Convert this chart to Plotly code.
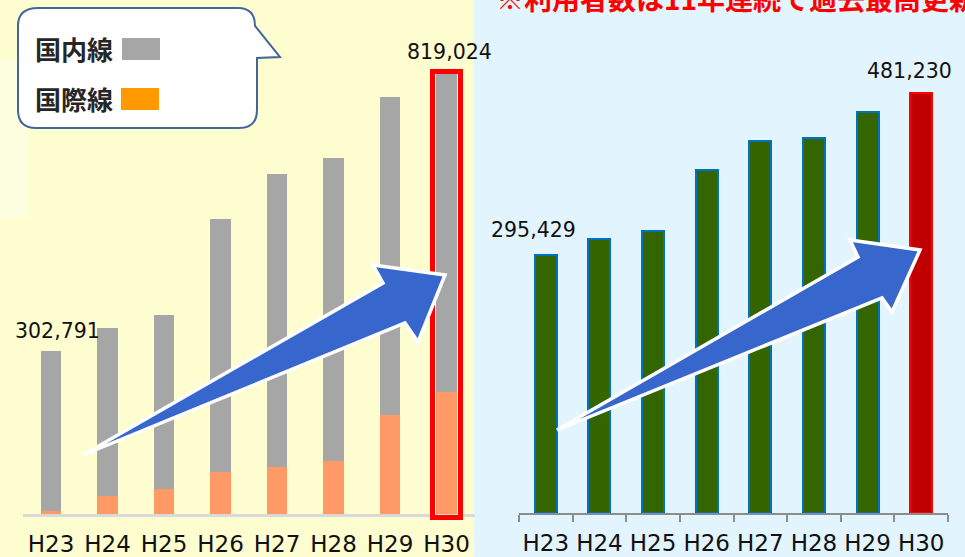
import plotly.graph_objects as go

# ---------------- data ----------------
categories = ["H23", "H24", "H25", "H26", "H27", "H28", "H29", "H30"]
international = [5000, 33000, 47000, 78000, 88000, 98000, 185000, 227000]
total_left = [302791, 346000, 370500, 549000, 634000, 662000, 777000, 819024]
domestic = [t - i for t, i in zip(total_left, international)]
users_right = [295429, 313500, 323400, 392900, 426000, 429000, 459000, 481230]
left_labels = {"H23": "302,791", "H30": "819,024"}
right_labels = {"H23": "295,429", "H30": "481,230"}
legend_names = ["国内線", "国際線"]
title_text = "※利用者数は11年連続で過去最高更新"

W, H = 965, 557


def px(x):
    return x / W


def py(y):
    return 1 - y / H


LEFT_SCALE = 1862.0   # value per pixel
RIGHT_SCALE = 1145.5
n = len(categories)

fig = go.Figure()

fig.add_trace(go.Bar(x=categories, y=international, name=legend_names[1],
                     marker=dict(color="#FF9966", line=dict(width=0)),
                     width=0.37, xaxis="x", yaxis="y"))
fig.add_trace(go.Bar(x=categories, y=domestic, name=legend_names[0],
                     marker=dict(color="#A6A6A6", line=dict(width=0)),
                     width=0.37, xaxis="x", yaxis="y"))

right_fill = ["#336600"] * (n - 1) + ["#C00000"]
right_line = ["#0070C0"] * (n - 1) + ["#FF0000"]
fig.add_trace(go.Bar(x=categories, y=users_right,
                     marker=dict(color=right_fill, line=dict(color=right_line, width=2)),
                     width=0.41, xaxis="x2", yaxis="y2"))

tickfont = dict(family="DejaVu Sans", size=23, color="#111111")

fig.update_layout(
    width=W, height=H,
    margin=dict(l=0, r=0, t=0, b=0, autoexpand=False),
    paper_bgcolor="#E2F4FD",
    plot_bgcolor="rgba(0,0,0,0)",
    barmode="stack",
    showlegend=False,
    xaxis=dict(domain=[22.75 / W, 474.75 / W], type="category",
               categoryorder="array", categoryarray=categories,
               range=[-0.5, n - 0.5], autorange=False,
               showline=True, linecolor="#D9D9D9", linewidth=3,
               ticks="", showgrid=False, zeroline=False, tickangle=0,
               automargin=False, ticklabelstandoff=7,
               tickfont=tickfont, anchor="y", fixedrange=True),
    yaxis=dict(domain=[(H - 514) / H, 1], range=[0, 514 * LEFT_SCALE],
               autorange=False,
               visible=False, anchor="x", fixedrange=True, automargin=False),
    xaxis2=dict(domain=[519 / W, 948 / W], type="category",
                categoryorder="array", categoryarray=categories,
                range=[-0.5, n - 0.5], autorange=False,
                showline=True, linecolor="#8C8C8C", linewidth=2,
                ticks="outside", ticklen=7, tickwidth=2, tickcolor="#8C8C8C",
                tickson="boundaries", showgrid=False, zeroline=False, tickangle=0,
                automargin=False, ticklabelstandoff=8,
                tickfont=tickfont, anchor="y2", fixedrange=True),
    yaxis2=dict(domain=[(H - 513) / H, 1], range=[0, 513 * RIGHT_SCALE],
                autorange=False,
                visible=False, anchor="x2", fixedrange=True, automargin=False),
)

shapes = []
# left panel background
shapes.append(dict(type="rect", xref="paper", yref="paper", layer="below",
                   x0=0, x1=px(474), y0=0, y1=1,
                   fillcolor="#FEFDD0", line=dict(width=0)))
# faded white block at left edge
shapes.append(dict(type="rect", xref="paper", yref="paper", layer="below",
                   x0=0, x1=px(28), y0=py(218), y1=py(60),
                   fillcolor="rgba(255,255,255,0.35)", line=dict(width=0)))

# red highlight box around left H30
shapes.append(dict(type="rect", xref="paper", yref="paper", layer="above",
                   x0=px(432.5), x1=px(460.5), y0=py(517.5), y1=py(71.5),
                   fillcolor="rgba(0,0,0,0)", line=dict(color="#FF0000", width=5)))


def poly(points):
    s = "M " + " L ".join(f"{px(x):.5f},{py(y):.5f}" for x, y in points) + " Z"
    return s


left_arrow = [(83, 455), (383, 283), (373, 265), (445, 275), (418, 342), (405, 323)]
right_arrow = [(557, 430), (858, 257), (850, 240), (920, 250), (892, 312), (882, 298)]
for pts in (left_arrow, right_arrow):
    shapes.append(dict(type="path", xref="paper", yref="paper", layer="above",
                       path=poly(pts), fillcolor="#3766CC",
                       line=dict(color="white", width=3.5)))

# callout legend box
def P(x, y):
    return f"{px(x):.5f},{py(y):.5f}"


callout = (f"M {P(38, 8)} L {P(238, 8)} Q {P(255, 8)} {P(255, 26)} "
           f"L {P(280, 57)} L {P(257, 58)} L {P(257, 110)} "
           f"Q {P(257, 128)} {P(239, 128)} L {P(36, 128)} "
           f"Q {P(18, 128)} {P(18, 110)} L {P(18, 26)} Q {P(18, 8)} {P(38, 8)} Z")
shapes.append(dict(type="path", xref="paper", yref="paper", layer="above",
                   path=callout, fillcolor="white",
                   line=dict(color="#41679A", width=2)))
shapes.append(dict(type="rect", xref="paper", yref="paper", layer="above",
                   x0=px(122), x1=px(160), y0=py(60), y1=py(38),
                   fillcolor="#A6A6A6", line=dict(width=0)))
shapes.append(dict(type="rect", xref="paper", yref="paper", layer="above",
                   x0=px(121), x1=px(159), y0=py(110), y1=py(88),
                   fillcolor="#FF9900", line=dict(width=0)))
fig.update_layout(shapes=shapes)

annotations = []
lblfont = dict(family="DejaVu Sans", size=20.5, color="#111111")
left_shift = {"H23": (6, 20), "H30": (3, 22)}
right_shift = {"H23": (-12, 25), "H30": (-12, 22)}
for cat, txt in left_labels.items():
    i = categories.index(cat)
    dx, dy = left_shift[cat]
    annotations.append(dict(x=cat, y=total_left[i], xref="x", yref="y", text=txt,
                            showarrow=False, xanchor="center", yanchor="middle",
                            xshift=dx, yshift=dy, font=lblfont))
for cat, txt in right_labels.items():
    i = categories.index(cat)
    dx, dy = right_shift[cat]
    annotations.append(dict(x=cat, y=users_right[i], xref="x2", yref="y2", text=txt,
                            showarrow=False, xanchor="center", yanchor="middle",
                            xshift=dx, yshift=dy, font=lblfont))

jpfont = dict(family="Noto Sans CJK JP", size=26, color="#262626", weight="bold")
annotations.append(dict(x=px(33), y=py(48), xref="paper", yref="paper",
                        text=f"<b>{legend_names[0]}</b>", showarrow=False,
                        xanchor="left", yanchor="middle", font=jpfont))
annotations.append(dict(x=px(33), y=py(98), xref="paper", yref="paper",
                        text=f"<b>{legend_names[1]}</b>", showarrow=False,
                        xanchor="left", yanchor="middle", font=jpfont))
annotations.append(dict(x=px(494), y=py(-2), xref="paper", yref="paper",
                        text=f"<b>{title_text}</b>", showarrow=False,
                        xanchor="left", yanchor="middle",
                        font=dict(family="Noto Sans CJK JP", size=28, color="#FF0000")))
fig.update_layout(annotations=annotations)

fig.write_html("out.html")
